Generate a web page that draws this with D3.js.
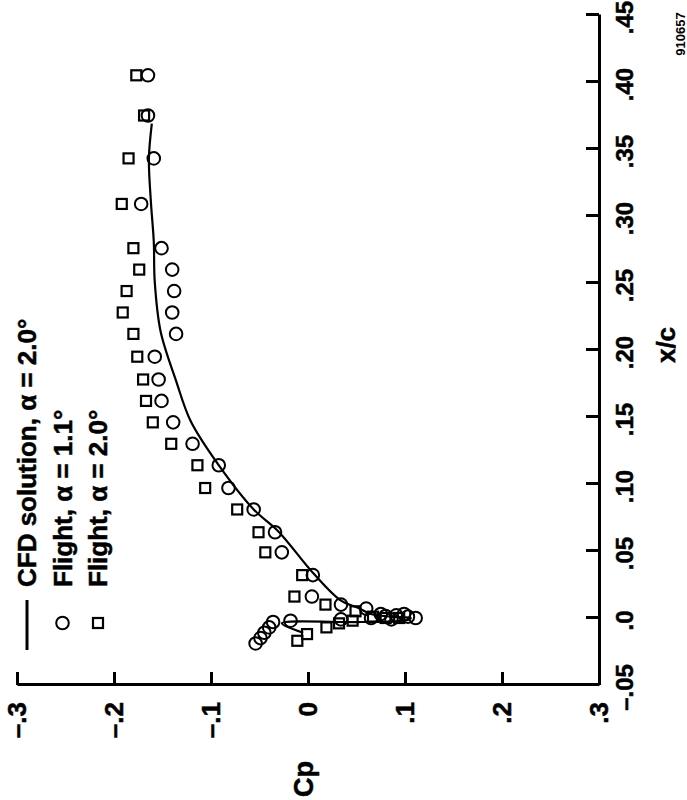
<!DOCTYPE html>
<html>
<head>
<meta charset="utf-8">
<script src="https://cdn.jsdelivr.net/npm/d3@7"></script>
<style>
  body { margin: 0; background: #fff; }
  text { font-family: "Liberation Sans", Arial, sans-serif; font-weight: bold; fill: #000; }
  .heavy { stroke: #000; stroke-width: 0.5; }
</style>
</head>
<body>
<div id="chart"></div>
<script>
// x/c axis ticks
var xcTicks = [-0.05, 0, 0.05, 0.10, 0.15, 0.20, 0.25, 0.30, 0.35, 0.40, 0.45];
var xcTickLabels = ["\u2013.05", ".0", ".05", ".10", ".15", ".20", ".25", ".30", ".35", ".40", ".45"];
// Cp axis ticks
var cpTicks = [-0.3, -0.2, -0.1, 0, 0.1, 0.2, 0.3];
var cpTickLabels = ["\u2013.3", "\u2013.2", "\u2013.1", "0", ".1", ".2", ".3"];

var legendLabels = ["CFD solution, \u03b1 = 2.0\u00b0", "Flight, \u03b1 = 1.1\u00b0", "Flight, \u03b1 = 2.0\u00b0"];

// CFD solution, alpha = 2.0
var cfdXc = [0.369, 0.343, 0.311, 0.281, 0.251, 0.214, 0.177, 0.147, 0.115, 0.081, 0.065, 0.033, 0.013, 0.0075, 0.003, 0.001, 0.0, -0.002, -0.003, -0.004, -0.011];
var cfdCp = [-0.161, -0.164, -0.162, -0.159, -0.158, -0.152, -0.136, -0.121, -0.093, -0.056, -0.031, 0.006, 0.034, 0.052, 0.065, 0.086, 0.106, 0.100, 0.055, -0.027, -0.005];

// Flight, alpha = 1.1 (circles)
var flight11Xc = [0.405, 0.375, 0.343, 0.309, 0.276, 0.260, 0.244, 0.228, 0.212, 0.195, 0.178, 0.162, 0.146, 0.130, 0.114, 0.097, 0.081, 0.064, 0.049, 0.032, 0.016, 0.010, 0.007, 0.003, 0.0015, 0.002, 0.003, 0.001, 0.0, -0.001, 0.0, -0.001, -0.002, -0.003, -0.007, -0.011, -0.015, -0.019];
var flight11Cp = [-0.165, -0.165, -0.159, -0.172, -0.151, -0.140, -0.138, -0.140, -0.136, -0.158, -0.154, -0.151, -0.139, -0.119, -0.092, -0.082, -0.056, -0.034, -0.027, 0.005, 0.004, 0.034, 0.060, 0.075, 0.080, 0.091, 0.099, 0.103, 0.111, 0.086, 0.065, 0.034, -0.018, -0.036, -0.040, -0.045, -0.049, -0.054];

// Flight, alpha = 2.0 (squares)
var flight20Xc = [0.405, 0.375, 0.343, 0.309, 0.276, 0.260, 0.244, 0.228, 0.212, 0.195, 0.178, 0.162, 0.146, 0.130, 0.114, 0.097, 0.081, 0.064, 0.049, 0.032, 0.016, 0.010, 0.005, 0.001, 0.0, 0.0, -0.002, -0.004, -0.007, -0.012, -0.017];
var flight20Cp = [-0.177, -0.169, -0.185, -0.192, -0.180, -0.174, -0.187, -0.191, -0.180, -0.176, -0.170, -0.167, -0.160, -0.141, -0.114, -0.106, -0.073, -0.051, -0.044, -0.006, -0.014, 0.018, 0.049, 0.067, 0.080, 0.094, 0.046, 0.032, 0.019, -0.001, -0.011];

var width = 687, height = 800;
// the figure is printed turned a quarter turn: x/c runs up the page, Cp runs across
var plotW = 670; // along x/c
var plotH = 582; // along Cp

var svg = d3.select("#chart").append("svg")
    .attr("width", width)
    .attr("height", height);

var g = svg.append("g")
    .attr("transform", "translate(17,685) rotate(-90)");

var x = d3.scaleLinear().domain([-0.05, 0.45]).range([0, plotW]);
var y = d3.scaleLinear().domain([-0.3, 0.3]).range([0, plotH]);

var xAxis = d3.axisBottom(x)
    .tickValues(xcTicks)
    .tickFormat((d, i) => xcTickLabels[i])
    .tickSizeInner(-13).tickSizeOuter(0).tickPadding(17);
var yAxis = d3.axisLeft(y)
    .tickValues(cpTicks)
    .tickFormat((d, i) => cpTickLabels[i])
    .tickSizeInner(-13).tickSizeOuter(0).tickPadding(17);

g.append("g")
    .attr("transform", `translate(0,${plotH})`)
    .call(xAxis)
    .call(a => a.selectAll("line, path").attr("stroke", "#000").attr("stroke-width", 3))
    .call(a => a.selectAll("text").attr("font-size", 24).attr("fill", "#000")
        .attr("class", "heavy").attr("dx", -3));

g.append("g")
    .call(yAxis)
    .call(a => a.selectAll("line, path").attr("stroke", "#000").attr("stroke-width", 3))
    .call(a => a.selectAll("text").attr("font-size", 26).attr("fill", "#000")
        .attr("class", "heavy"));

// axis titles
g.append("text")
    .attr("class", "heavy")
    .attr("x", -94).attr("y", 296)
    .attr("text-anchor", "middle")
    .attr("font-size", 27)
    .text("Cp");

g.append("text")
    .attr("class", "heavy")
    .attr("x", 340).attr("y", 658)
    .attr("text-anchor", "middle")
    .attr("font-size", 26)
    .text("x/c");

g.append("text")
    .attr("x", 651).attr("y", 668)
    .attr("text-anchor", "middle")
    .attr("font-size", 13)
    .text("910657");

// CFD line
var cfd = cfdXc.map((d, i) => ({ xc: d, cp: cfdCp[i] }));
var line = d3.line()
    .x(d => x(d.xc))
    .y(d => y(d.cp))
    .curve(d3.curveCatmullRom.alpha(0.5));

g.append("path")
    .datum(cfd)
    .attr("fill", "none")
    .attr("stroke", "#000")
    .attr("stroke-width", 2.2)
    .attr("d", line);

// flight data
var f11 = flight11Xc.map((d, i) => ({ xc: d, cp: flight11Cp[i] }));
var f20 = flight20Xc.map((d, i) => ({ xc: d, cp: flight20Cp[i] }));

g.append("g")
    .selectAll("rect").data(f20).enter().append("rect")
    .attr("x", d => x(d.xc) - 5)
    .attr("y", d => y(d.cp) - 5)
    .attr("width", 10)
    .attr("height", 10)
    .attr("fill", "none")
    .attr("stroke", "#000")
    .attr("stroke-width", 2.2);

g.append("g")
    .selectAll("circle").data(f11).enter().append("circle")
    .attr("cx", d => x(d.xc))
    .attr("cy", d => y(d.cp))
    .attr("r", 6.3)
    .attr("fill", "none")
    .attr("stroke", "#000")
    .attr("stroke-width", 2);

// legend (top-left of the unturned figure)
var legend = g.append("g");
var rows = [10, 45.5, 81];

legend.append("line")
    .attr("x1", 35).attr("x2", 85)
    .attr("y1", rows[0]).attr("y2", rows[0])
    .attr("stroke", "#000").attr("stroke-width", 3);

legend.append("circle")
    .attr("cx", 62).attr("cy", rows[1]).attr("r", 6.3)
    .attr("fill", "none").attr("stroke", "#000").attr("stroke-width", 2);

legend.append("rect")
    .attr("x", 57).attr("y", rows[2] - 5).attr("width", 10).attr("height", 10)
    .attr("fill", "none").attr("stroke", "#000").attr("stroke-width", 2.2);

legend.selectAll("text.lg").data(legendLabels).enter().append("text")
    .attr("class", "lg heavy")
    .attr("x", 98)
    .attr("y", (d, i) => rows[i])
    .attr("dy", "0.36em")
    .attr("font-size", 26)
    .text(d => d);
</script>
</body>
</html>
